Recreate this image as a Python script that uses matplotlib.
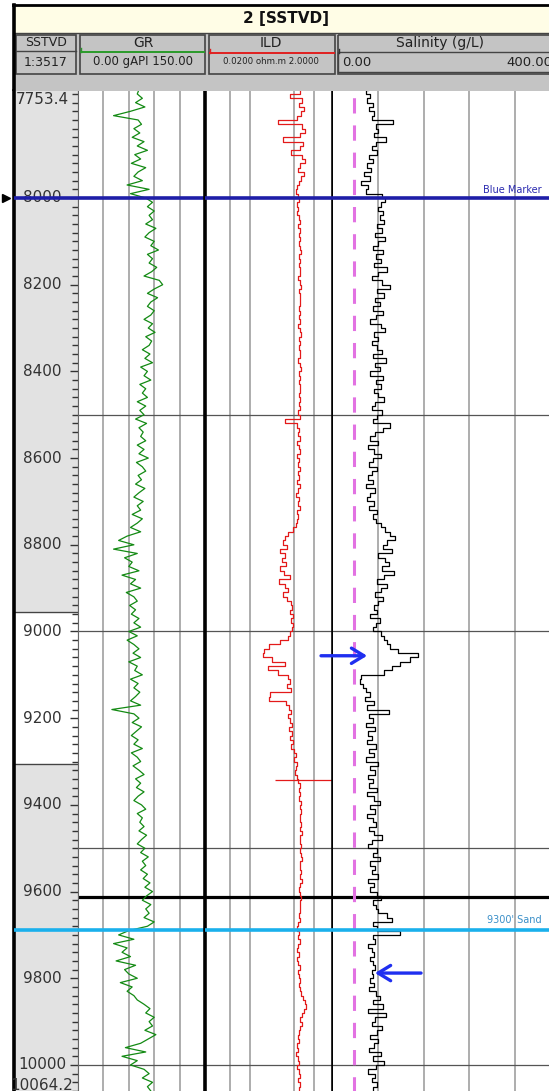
import numpy as np
import matplotlib
matplotlib.use("Agg")
import matplotlib.pyplot as plt
from matplotlib.patches import Rectangle
from matplotlib.ticker import NullLocator

# readings every 10 ft (SSTVD)
depth = np.arange(7750, 10061, 10)

gr = [72, 70, 76, 68, 79, 62, 42, 71, 75, 66,
      73, 64, 78, 70, 82, 67, 74, 63, 80, 71,
      66, 76, 58, 84, 62, 80, 88, 82, 90, 84,
      88, 80, 92, 84, 79, 90, 86, 95, 82, 88,
      84, 93, 87, 78, 96, 100, 90, 82, 94, 86,
      82, 90, 86, 78, 88, 83, 91, 80, 87, 84,
      76, 85, 79, 88, 74, 82, 78, 86, 73, 80,
      76, 82, 70, 80, 73, 78, 68, 81, 72, 77,
      74, 80, 70, 78, 72, 83, 69, 76, 80, 71,
      75, 68, 79, 72, 66, 77, 70, 74, 64, 76,
      70, 62, 74, 58, 48, 66, 42, 70, 55, 64,
      60, 72, 52, 68, 62, 74, 57, 66, 70, 61,
      68, 63, 72, 66, 74, 60, 70, 58, 66, 72,
      65, 74, 60, 70, 67, 76, 62, 71, 66, 73,
      68, 62, 74, 40, 66, 72, 64, 75, 69, 63,
      71, 66, 76, 63, 70, 74, 65, 72, 78, 68,
      74, 69, 78, 71, 66, 75, 80, 70, 76, 73,
      78, 72, 81, 75, 70, 79, 74, 83, 76, 80,
      74, 82, 77, 85, 79, 88, 81, 76, 86, 80,
      84, 78, 90, 82, 60, 48, 66, 42, 58, 52,
      62, 45, 68, 55, 60, 70, 50, 64, 58, 66,
      70, 78, 85, 80, 90, 84, 88, 79, 92, 83,
      74, 56, 80, 52, 70, 62, 78, 84, 76, 88,
      82, 86]

ild = [0.62, 0.60, 0.42, 0.65, 0.58, 0.70, 0.63, 0.55, 0.28, 0.66,
       0.72, 0.62, 0.33, 0.68, 0.60, 0.44, 0.66, 0.73, 0.61, 0.57,
       0.70, 0.64, 0.58, 0.55, 0.53, 0.56, 0.58, 0.55, 0.57, 0.54,
       0.58, 0.60, 0.57, 0.62, 0.59, 0.61, 0.58, 0.60, 0.63, 0.59,
       0.61, 0.58, 0.62, 0.60, 0.57, 0.61, 0.63, 0.59, 0.60, 0.62,
       0.60, 0.58, 0.62, 0.59, 0.61, 0.57, 0.60, 0.63, 0.58, 0.61,
       0.59, 0.62, 0.60, 0.57, 0.61, 0.64, 0.59, 0.60, 0.58, 0.62,
       0.60, 0.58, 0.61, 0.59, 0.62, 0.57, 0.60, 0.36, 0.55, 0.58,
       0.56, 0.60, 0.54, 0.58, 0.61, 0.55, 0.59, 0.57, 0.62, 0.56,
       0.58, 0.55, 0.60, 0.57, 0.53, 0.58, 0.56, 0.60, 0.54, 0.57,
       0.55, 0.52, 0.48, 0.40, 0.36, 0.33, 0.38, 0.30, 0.35, 0.32,
       0.37, 0.30, 0.34, 0.42, 0.29, 0.36, 0.40, 0.33, 0.38, 0.44,
       0.46, 0.42, 0.47, 0.44, 0.48, 0.45, 0.43, 0.40, 0.30, 0.20,
       0.17, 0.16, 0.22, 0.36, 0.19, 0.28, 0.40, 0.42, 0.38, 0.44,
       0.21, 0.20, 0.37, 0.41, 0.44, 0.39, 0.43, 0.46, 0.41, 0.45,
       0.43, 0.47, 0.44, 0.49, 0.52, 0.50, 0.55, 0.53, 0.51, 0.54,
       0.56, 0.60, 0.58, 0.62, 0.59, 0.63, 0.61, 0.64, 0.60, 0.62,
       0.63, 0.60, 0.65, 0.62, 0.60, 0.64, 0.61, 0.63, 0.66, 0.62,
       0.60, 0.63, 0.61, 0.65, 0.62, 0.59, 0.62, 0.64, 0.61, 0.60,
       0.62, 0.59, 0.61, 0.57, 0.55, 0.58, 0.56, 0.60, 0.57, 0.55,
       0.58, 0.54, 0.57, 0.60, 0.56, 0.59, 0.62, 0.58, 0.61, 0.64,
       0.67, 0.72, 0.75, 0.70, 0.66, 0.62, 0.65, 0.60, 0.58, 0.56,
       0.58, 0.55, 0.57, 0.53, 0.56, 0.59, 0.55, 0.58, 0.61, 0.57,
       0.60, 0.58]

sal = [62, 58, 66, 60, 70, 64, 72, 68, 106, 76,
       80, 72, 94, 76, 68, 77, 64, 71, 60, 67,
       55, 66, 50, 62, 58, 86, 92, 84, 80, 88,
       82, 90, 78, 86, 74, 92, 80, 70, 88, 76,
       84, 72, 95, 80, 68, 86, 100, 78, 90, 74,
       82, 70, 88, 76, 66, 84, 92, 72, 80, 68,
       78, 86, 70, 94, 74, 82, 66, 88, 76, 84,
       72, 80, 90, 74, 68, 86, 78, 70, 100, 88,
       74, 66, 80, 62, 72, 84, 70, 64, 78, 68,
       62, 70, 58, 74, 66, 60, 72, 64, 78, 70,
       76, 84, 92, 100, 110, 96, 88, 104, 80, 92,
       98, 86, 108, 90, 78, 96, 84, 74, 88, 80,
       72, 78, 66, 82, 75, 70, 84, 90, 96, 100,
       115, 150, 136, 118, 104, 90, 50, 47, 52, 58,
       66, 56, 72, 60, 98, 64, 70, 58, 74, 62,
       68, 60, 76, 64, 72, 58, 80, 66, 74, 62,
       70, 64, 78, 60, 72, 82, 66, 74, 60, 70,
       76, 64, 72, 86, 68, 62, 78, 70, 82, 66,
       74, 68, 80, 62, 72, 66, 78, 84, 70, 76,
       80, 96, 104, 70, 78, 118, 70, 74, 62, 68,
       72, 66, 70, 74, 68, 70, 66, 72, 64, 76,
       82, 70, 88, 62, 94, 74, 68, 86, 78, 66,
       80, 72, 64, 84, 70, 90, 76, 62, 74, 68,
       78, 70]

top_depth, base_depth = 7753.4, 10064.2
depth_labels = [8000, 8200, 8400, 8600, 8800, 9000, 9200, 9400, 9600, 9800, 10000]
grid_depths = [8500, 9000, 9500, 10000]
thick_depth = 9611.5
blue_marker = 8000
sand_marker = 9688
zone_top, zone_base = 8954, 9306
sal_cutoff = 37
ild_spike = (9342, 0.25, 2.0)
arrow_right = (9056, -26, 65)
arrow_left = (9788, 160, 69)

W, H = 549, 1091
fig = plt.figure(figsize=(W / 100, H / 100), dpi=100)
Y0, Y1 = 91.1, 1092.8


def track(x0, x1):
    ax = fig.add_axes([x0 / W, 1 - Y1 / H, (x1 - x0) / W, (Y1 - Y0) / H])
    ax.set_ylim(base_depth, top_depth)
    ax.tick_params(left=False, bottom=False, labelleft=False, labelbottom=False)
    for s in ax.spines.values():
        s.set_visible(False)
    return ax


ax_d = track(14, 78)
ax_gr = track(78, 205)
ax_ild = track(205, 333)
ax_sal = track(333, 560)

# depth track
ax_d.set_xlim(0, 1)
ax_d.set_facecolor('#e2e2e2')
ax_d.axhspan(zone_top, zone_base, color='white', zorder=0.5)
for z in (zone_top, zone_base):
    ax_d.axhline(z, color='#444444', lw=1.0)
ax_d.spines['left'].set_visible(True)
ax_d.spines['left'].set_linewidth(2.6)
ax_d.spines['left'].set_color('black')
ax_d.spines['right'].set_visible(True)
ax_d.spines['right'].set_color('#555555')
ax_d.yaxis.tick_right()
ax_d.set_yticks(depth_labels)
ax_d.set_yticks(np.arange(7760, 10061, 20), minor=True)
ax_d.tick_params(axis='y', which='both', direction='in', right=True, left=False,
                 labelright=False, labelleft=False, color='#333333', width=1.0)
ax_d.tick_params(axis='y', which='major', length=6)
ax_d.tick_params(axis='y', which='minor', length=4.3)
tr = ax_d.get_yaxis_transform()
for d in depth_labels:
    ax_d.text(0.44, d, str(d), transform=tr, ha='center', va='center',
              fontsize=11, color='#333333')
ax_d.text(0.44, top_depth + 1, '7753.4', transform=tr, ha='center', va='top',
          fontsize=11, color='#333333')
ax_d.text(0.44, base_depth, '10064.2', transform=tr, ha='center', va='bottom',
          fontsize=11, color='#333333')
ax_d.plot([-0.13], [blue_marker], marker='>', ms=6, color='black',
          transform=tr, clip_on=False)

# curve tracks
ax_gr.set_xlim(0, 150)
ax_gr.set_xticks([30, 60, 90, 120])
ax_gr.spines['left'].set_visible(True)
ax_gr.spines['left'].set_color('#666666')

ax_ild.set_xscale('log')
ax_ild.set_xlim(0.02, 2)
ax_ild.set_xticks([0.05, 0.1, 0.5, 1.0])
ax_ild.xaxis.set_minor_locator(NullLocator())
for side in ('left', 'right'):
    ax_ild.spines[side].set_visible(True)
    ax_ild.spines[side].set_linewidth(2.6)
    ax_ild.spines[side].set_color('black')

ax_sal.set_xlim(0, 400)
ax_sal.set_xticks([80, 160, 240, 320])

for ax in (ax_gr, ax_ild, ax_sal):
    ax.tick_params(bottom=False, labelbottom=False)
    ax.grid(axis='x', color='#a0a0a0', lw=1.2)
    for g in grid_depths:
        ax.axhline(g, color='#555555', lw=0.9)
    ax.axhline(thick_depth, color='black', lw=2.3)

for ax in (ax_d, ax_gr, ax_ild, ax_sal):
    ax.axhline(blue_marker, color='#1e1ea8', lw=2.6, zorder=5)
    ax.axhline(sand_marker, color='#1ab0ec', lw=2.6, zorder=5)

ax_gr.plot(gr, depth, color='#138a13', lw=0.9)
ax_ild.plot(ild, depth, color='#e31a1a', lw=0.9, drawstyle='steps-post')
ax_ild.hlines(ild_spike[0], ild_spike[1], ild_spike[2], color='#e31a1a', lw=0.9)
ax_sal.plot(sal, depth, color='black', lw=0.9, drawstyle='steps-post')
ax_sal.axvline(sal_cutoff, color='#e272e2', lw=2.2, dashes=(5, 3.9))

ax_sal.text(265, blue_marker - 8, 'Blue Marker', fontsize=7, color='#2b2bb0', va='bottom')
ax_sal.text(271, sand_marker - 10, "9300' Sand", fontsize=7, color='#3a8fc8', va='bottom')

for d, x0, x1 in (arrow_right, arrow_left):
    ax_sal.annotate('', xy=(x1, d), xytext=(x0, d), annotation_clip=False,
                    arrowprops=dict(arrowstyle='->, head_length=0.9, head_width=0.55',
                                    color='#1f2ff0', lw=2.4))

# header
ax_h = fig.add_axes([0, 1 - Y0 / H, 1, Y0 / H])
ax_h.set_xlim(0, W)
ax_h.set_ylim(Y0, 0)
ax_h.axis('off')
ax_h.add_patch(Rectangle((14, 5), 540, 28, fc='#fffde6', ec='none'))
ax_h.add_patch(Rectangle((14, 33), 540, Y0 - 33, fc='#c4c4c4', ec='none'))
ax_h.plot([14, W], [33, 33], color='#444444', lw=1)
ax_h.plot([13, W], [5, 5], color='black', lw=2)
ax_h.plot([14, 14], [5, Y0], color='black', lw=2.6)
for x0, x1 in ((16, 76), (80, 205), (209, 335), (338, 560)):
    ax_h.add_patch(Rectangle((x0, 35), x1 - x0, 39, fc='none', ec='#444444', lw=1.2))
ax_h.plot([16, 76], [51, 51], color='#444444', lw=1)
ax_h.add_patch(Rectangle((338, 52), 222, 20, fc='none', ec='#444444', lw=1))
ax_h.plot([81, 204], [52, 52], color='#2a9a2a', lw=1.4)
ax_h.plot([81, 81], [48, 52], color='#2a9a2a', lw=1)
ax_h.plot([210, 334], [53, 53], color='#e02020', lw=1.4)
ax_h.plot([210, 210], [49, 53], color='#e02020', lw=1)
ax_h.plot([339, 339], [49, 53], color='#333333', lw=1)

ax_h.text(286, 18, '2 [SSTVD]', ha='center', va='center', fontsize=11,
          fontweight='bold', color='#111111')
ax_h.text(46, 43, 'SSTVD', ha='center', va='center', fontsize=9, color='#222222')
ax_h.text(46, 62, '1:3517', ha='center', va='center', fontsize=9, color='#222222')
ax_h.text(143, 43, 'GR', ha='center', va='center', fontsize=10, color='#222222')
ax_h.text(143, 62, '0.00 gAPI 150.00', ha='center', va='center', fontsize=8.5, color='#222222')
ax_h.text(271, 43, 'ILD', ha='center', va='center', fontsize=10, color='#222222')
ax_h.text(271, 61, '0.0200 ohm.m 2.0000', ha='center', va='center', fontsize=6.2, color='#222222')
ax_h.text(440, 43, 'Salinity (g/L)', ha='center', va='center', fontsize=10, color='#222222')
ax_h.text(342, 63, '0.00', ha='left', va='center', fontsize=9.5, color='#222222')
ax_h.text(552, 63, '400.00', ha='right', va='center', fontsize=9.5, color='#222222')

fig.savefig('out.png', dpi=100)
